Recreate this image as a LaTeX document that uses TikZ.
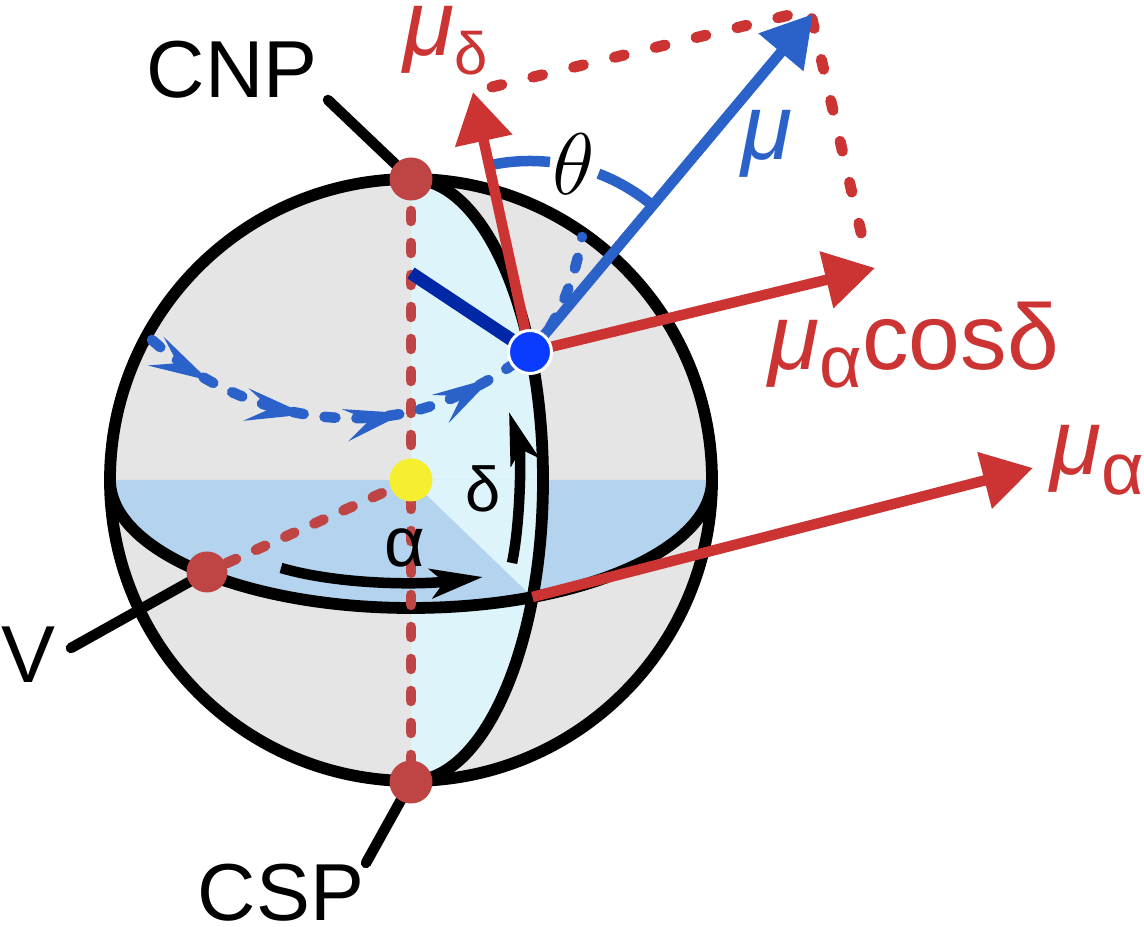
\documentclass[tikz,border=0pt]{standalone}
\usepackage{fontspec}
\setmainfont{Liberation Sans}
\usetikzlibrary{arrows.meta,decorations.markings}
\definecolor{spheregray}{HTML}{E5E5E5}
\definecolor{meridcyan}{HTML}{DCF4FA}
\definecolor{equatorblue}{HTML}{B3D3EE}
\definecolor{dotred}{HTML}{BF4545}
\definecolor{arrowred}{HTML}{CC3333}
\definecolor{pathblue}{HTML}{2A62C9}
\definecolor{darkblue}{HTML}{0027A5}
\definecolor{starblue}{HTML}{0A3CFF}
\definecolor{sunyellow}{HTML}{F5EF30}
\tikzset{
  flow/.tip={Stealth[length=6mm,width=3.2mm,inset=2.4mm]},
  turnhead/.tip={Stealth[length=5.2mm,width=2.9mm,inset=1.3mm]},
  vechead/.tip={Triangle[length=5mm,width=5.6mm]}
}

\begin{document}
\begin{tikzpicture}[x=0.1mm,y=0.1mm,
  rim/.style={line width=1.18mm},
  reddash/.style={draw=dotred,line width=1.05mm,line cap=round,dash pattern=on 1mm off 2.2mm},
  boxdash/.style={draw=arrowred,line width=1.1mm,line cap=round,dash pattern=on 1mm off 3.2mm},
  pathdash/.style={draw=pathblue,line width=1.05mm,line cap=round,dash pattern=on 1.1mm off 2.1mm},
  vec/.style={line width=1.05mm,-vechead},
  turn/.style={line width=1.05mm,-turnhead},
  thetaarc/.style={pathblue,line width=1.05mm},
  leader/.style={line width=1.05mm,line cap=round},
  dot/.style={circle,inner sep=0pt,minimum size=4.3mm,fill=#1},
  lbl/.style={inner sep=0pt,font=\fontsize{23}{27}\selectfont},
  vlbl/.style={inner sep=0pt,anchor=base west,font=\fontsize{26.5}{30}\selectfont}]
\useasboundingbox (0,0) rectangle (1144,-927);
% Points on the sphere
\coordinate (o) at (411,-480);
\coordinate (np) at (411,-179);
\coordinate (sp) at (411,-782);
\coordinate (ve) at (207,-572);
\coordinate (st) at (530,-352);
\coordinate (eq) at (532.5,-597);
\coordinate (dk) at (411,-273);
% Tips of the motion vectors
\coordinate (dtip) at (473,-92);
\coordinate (mtip) at (813,-14);
\coordinate (ctip) at (875,-268);
\coordinate (atip) at (1033,-468);
\coordinate (corner) at (810,-10);
\coordinate (dbox) at (492,-87);
\coordinate (cbox) at (866,-254);
% Sphere, meridian plane and equator plane
\fill[spheregray] (o) circle (301);
\fill[meridcyan] (np) arc[start angle=90,end angle=-90,x radius=132,y radius=301] -- cycle;
\fill[equatorblue] (110,-480) arc[start angle=180,end angle=360,x radius=301,y radius=128] -- cycle;
\fill[meridcyan] (o) -- (eq) arc[start angle=-22.95,end angle=0,x radius=132,y radius=301] -- cycle;
\draw[rim] (o) circle (301);
\draw[rim] (110,-480) arc[start angle=180,end angle=360,x radius=301,y radius=128];
\draw[rim] (np) arc[start angle=90,end angle=-90,x radius=132,y radius=301];
% Axis and direction of V
\draw[reddash] (np) -- (sp);
\draw[reddash] (o) -- (ve);
% Path of the star
\draw[pathdash] (st) .. controls (555,-330) and (575,-280) .. (582,-237);
\draw[pathdash,postaction={decorate},decoration={markings,
  mark=at position 0.17 with {\arrow{flow}},
  mark=at position 0.42 with {\arrow{flow}},
  mark=at position 0.66 with {\arrow{flow}},
  mark=at position 0.89 with {\arrow{flow}}}]
  (152,-340) .. controls (230,-410) and (330,-430) .. (410,-412)
  .. controls (460,-400) and (500,-375) .. (st);
\draw[darkblue,line width=1.3mm] (dk) -- (st);
% Angle theta
\draw[thetaarc] ([shift={(50:191)}]st) arc[start angle=50,end angle=69,radius=191];
\draw[thetaarc] ([shift={(84:191)}]st) arc[start angle=84,end angle=101,radius=191];
% Parallelogram and vectors
\draw[boxdash] (dbox) -- (corner) -- (cbox);
\draw[vec,arrowred] (st) -- (dtip);
\draw[vec,pathblue] (st) -- (mtip);
\draw[vec,arrowred] (st) -- (ctip);
\draw[vec,arrowred] (eq) -- (atip);
% Angles alpha and delta
\draw[turn] (281,-568) .. controls (340,-585) and (420,-585) .. (483,-577);
\draw[turn] (512,-563) .. controls (521,-520) and (521,-450) .. (509,-412);
% Leaders
\coordinate (cnptail) at (328,-100);
\coordinate (csptail) at (366,-863);
\coordinate (vtail) at (71,-648);
\draw[leader] (cnptail) -- (np);
\draw[leader] (csptail) -- (sp);
\draw[leader] (vtail) -- (ve);
% Dots
\node[dot=dotred] (npdot) at (np) {};
\node[dot=dotred] (spdot) at (sp) {};
\node[dot=dotred,minimum size=4.1mm] (vedot) at (ve) {};
\node[dot=sunyellow] (odot) at (o) {};
\node[dot=starblue,draw=white,line width=0.3mm] (stdot) at (st) {};
% Labels
\node[lbl] (cnp) at (232,-70) {CNP};
\node[lbl] (csp) at (281,-893) {CSP};
\node[lbl] (vlab) at (28,-655) {V};
\node[lbl,font=\fontsize{20}{24}\selectfont] (alab) at (405,-548) {α};
\node[lbl,font=\fontsize{18}{22}\selectfont] (dlab) at (483,-489) {δ};
\node[lbl,font=\fontsize{25}{30}\selectfont] (tlab) at (574,-164) {$\theta$};
\node[lbl,pathblue,font=\fontsize{26.5}{30}\selectfont\itshape] (mlab) at (767,-144) {μ};
\node[vlbl,arrowred] (mdlab) at (403,-56) {{\itshape μ}\raisebox{-1.9mm}{\fontsize{17}{20}\selectfont δ}};
\node[vlbl,arrowred] (mclab) at (768,-370) {{\itshape μ}\raisebox{-1.8mm}{\fontsize{21}{24}\selectfont α}cosδ};
\node[vlbl,arrowred] (malab) at (1050,-475) {{\itshape μ}\raisebox{-2mm}{\fontsize{21}{24}\selectfont α}};
\end{tikzpicture}
\end{document}
